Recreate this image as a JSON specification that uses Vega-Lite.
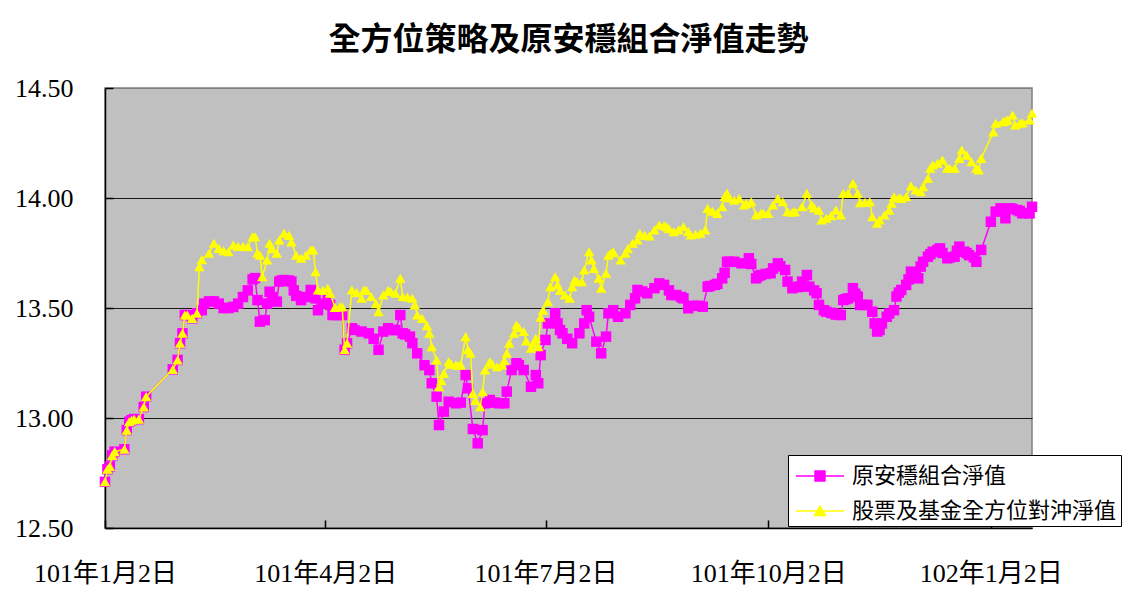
{
  "$schema": "https://vega.github.io/schema/vega-lite/v6.json",
  "autosize": {"type": "none"},
  "padding": {"left": 105, "top": 88, "right": 101, "bottom": 64},
  "width": 927,
  "height": 440,
  "background": "white",
  "title": {
    "text": "全方位策略及原安穩組合淨值走勢",
    "font": "Noto Sans CJK TC",
    "fontSize": 32,
    "fontWeight": "bold",
    "color": "black",
    "anchor": "middle",
    "offset": 18
  },
  "datasets": {
    "a": [
      {"date":"2012-01-02","nav":12.71},{"date":"2012-01-03","nav":12.767},{"date":"2012-01-04","nav":12.78},{"date":"2012-01-05","nav":12.83},{"date":"2012-01-06","nav":12.847},{"date":"2012-01-10","nav":12.858},{"date":"2012-01-11","nav":12.945},{"date":"2012-01-12","nav":12.983},{"date":"2012-01-13","nav":12.99},{"date":"2012-01-14","nav":12.995},{"date":"2012-01-16","nav":12.995},{"date":"2012-01-18","nav":13.05},{"date":"2012-01-19","nav":13.097},{"date":"2012-01-30","nav":13.221},{"date":"2012-02-01","nav":13.264},{"date":"2012-02-02","nav":13.34},{"date":"2012-02-03","nav":13.385},{"date":"2012-02-04","nav":13.468},{"date":"2012-02-05","nav":13.468},{"date":"2012-02-07","nav":13.453},{"date":"2012-02-09","nav":13.476},
      {"date":"2012-02-11","nav":13.49},{"date":"2012-02-12","nav":13.52},{"date":"2012-02-14","nav":13.53},{"date":"2012-02-16","nav":13.53},{"date":"2012-02-18","nav":13.52},{"date":"2012-02-20","nav":13.5},{"date":"2012-02-22","nav":13.5},{"date":"2012-02-24","nav":13.505},{"date":"2012-02-26","nav":13.52},{"date":"2012-02-28","nav":13.55},{"date":"2012-03-01","nav":13.58},{"date":"2012-03-03","nav":13.63},{"date":"2012-03-04","nav":13.636},{"date":"2012-03-05","nav":13.536},{"date":"2012-03-06","nav":13.438},{"date":"2012-03-08","nav":13.445},{"date":"2012-03-09","nav":13.52},{"date":"2012-03-10","nav":13.574},{"date":"2012-03-11","nav":13.55},{"date":"2012-03-13","nav":13.529},{"date":"2012-03-14","nav":13.62},{"date":"2012-03-15","nav":13.625},{"date":"2012-03-16","nav":13.627},{"date":"2012-03-18","nav":13.625},{"date":"2012-03-19","nav":13.62},{"date":"2012-03-20","nav":13.58},{"date":"2012-03-21","nav":13.555},{"date":"2012-03-23","nav":13.536},{"date":"2012-03-25","nav":13.55},{"date":"2012-03-27","nav":13.582},{"date":"2012-03-29","nav":13.544},{"date":"2012-03-30","nav":13.49},{"date":"2012-04-01","nav":13.52},{"date":"2012-04-03","nav":13.55},{"date":"2012-04-04","nav":13.514},{"date":"2012-04-05","nav":13.468},{"date":"2012-04-07","nav":13.468},{"date":"2012-04-09","nav":13.468},{"date":"2012-04-10","nav":13.31},{"date":"2012-04-11","nav":13.34},{"date":"2012-04-13","nav":13.408},{"date":"2012-04-14","nav":13.4},{"date":"2012-04-17","nav":13.393},{"date":"2012-04-20","nav":13.385},{"date":"2012-04-22","nav":13.36},{"date":"2012-04-24","nav":13.31},{"date":"2012-04-26","nav":13.393},{"date":"2012-04-28","nav":13.408},{"date":"2012-04-30","nav":13.4},{"date":"2012-05-01","nav":13.4},{"date":"2012-05-03","nav":13.468},{"date":"2012-05-04","nav":13.385},{"date":"2012-05-05","nav":13.38},{"date":"2012-05-07","nav":13.37},{"date":"2012-05-08","nav":13.34},{"date":"2012-05-10","nav":13.294},{"date":"2012-05-13","nav":13.24},{"date":"2012-05-15","nav":13.218},{"date":"2012-05-16","nav":13.158},{"date":"2012-05-18","nav":13.097},{"date":"2012-05-19","nav":12.968},{"date":"2012-05-21","nav":13.029},{"date":"2012-05-23","nav":13.074},{"date":"2012-05-26","nav":13.067},{"date":"2012-05-28","nav":13.07},{"date":"2012-05-30","nav":13.195},{"date":"2012-05-31","nav":13.135},{"date":"2012-06-02","nav":12.95},{"date":"2012-06-04","nav":12.885},{"date":"2012-06-06","nav":12.945},{"date":"2012-06-07","nav":13.067},{"date":"2012-06-09","nav":13.082},{"date":"2012-06-11","nav":13.07},{"date":"2012-06-13","nav":13.067},{"date":"2012-06-15","nav":13.067},{"date":"2012-06-16","nav":13.12},{"date":"2012-06-18","nav":13.218},{"date":"2012-06-20","nav":13.249},{"date":"2012-06-21","nav":13.24},{"date":"2012-06-23","nav":13.218},{"date":"2012-06-26","nav":13.142},{"date":"2012-06-28","nav":13.195},{"date":"2012-06-29","nav":13.158},{"date":"2012-06-30","nav":13.286},{"date":"2012-07-02","nav":13.355},{"date":"2012-07-03","nav":13.43},{"date":"2012-07-06","nav":13.476},{"date":"2012-07-07","nav":13.43},{"date":"2012-07-08","nav":13.4},{"date":"2012-07-09","nav":13.385},{"date":"2012-07-11","nav":13.36},{"date":"2012-07-13","nav":13.34},{"date":"2012-07-16","nav":13.385},{"date":"2012-07-18","nav":13.43},{"date":"2012-07-19","nav":13.49},{"date":"2012-07-20","nav":13.46},{"date":"2012-07-23","nav":13.347},{"date":"2012-07-25","nav":13.294},{"date":"2012-07-27","nav":13.37},{"date":"2012-07-28","nav":13.476},{"date":"2012-07-30","nav":13.49},{"date":"2012-08-01","nav":13.46},{"date":"2012-08-04","nav":13.476},{"date":"2012-08-06","nav":13.514},{"date":"2012-08-08","nav":13.544},{"date":"2012-08-09","nav":13.582},{"date":"2012-08-11","nav":13.575},{"date":"2012-08-13","nav":13.567},{"date":"2012-08-16","nav":13.59},{"date":"2012-08-18","nav":13.612},{"date":"2012-08-20","nav":13.605},{"date":"2012-08-22","nav":13.58},{"date":"2012-08-23","nav":13.559},{"date":"2012-08-25","nav":13.559},{"date":"2012-08-27","nav":13.55},{"date":"2012-08-28","nav":13.544},{"date":"2012-08-30","nav":13.499},{"date":"2012-09-01","nav":13.51},{"date":"2012-09-03","nav":13.51},{"date":"2012-09-05","nav":13.506},{"date":"2012-09-07","nav":13.597},{"date":"2012-09-08","nav":13.6},{"date":"2012-09-10","nav":13.605},{"date":"2012-09-11","nav":13.61},{"date":"2012-09-13","nav":13.635},{"date":"2012-09-14","nav":13.66},{"date":"2012-09-15","nav":13.71},{"date":"2012-09-16","nav":13.71},{"date":"2012-09-18","nav":13.71},{"date":"2012-09-21","nav":13.703},{"date":"2012-09-24","nav":13.726},{"date":"2012-09-25","nav":13.7},{"date":"2012-09-27","nav":13.635},{"date":"2012-09-28","nav":13.645},{"date":"2012-09-29","nav":13.65},{"date":"2012-10-01","nav":13.655},{"date":"2012-10-03","nav":13.658},{"date":"2012-10-04","nav":13.68},{"date":"2012-10-06","nav":13.703},{"date":"2012-10-07","nav":13.69},{"date":"2012-10-09","nav":13.673},{"date":"2012-10-10","nav":13.62},{"date":"2012-10-12","nav":13.59},{"date":"2012-10-14","nav":13.595},{"date":"2012-10-15","nav":13.597},{"date":"2012-10-16","nav":13.62},{"date":"2012-10-18","nav":13.65},{"date":"2012-10-19","nav":13.597},{"date":"2012-10-21","nav":13.58},{"date":"2012-10-22","nav":13.567},{"date":"2012-10-23","nav":13.514},{"date":"2012-10-25","nav":13.49},{"date":"2012-10-26","nav":13.483},{"date":"2012-10-28","nav":13.478},{"date":"2012-10-29","nav":13.476},{"date":"2012-10-30","nav":13.47},{"date":"2012-11-01","nav":13.468},{"date":"2012-11-02","nav":13.536},{"date":"2012-11-03","nav":13.54},{"date":"2012-11-04","nav":13.544},{"date":"2012-11-06","nav":13.59},{"date":"2012-11-07","nav":13.565},{"date":"2012-11-08","nav":13.552},{"date":"2012-11-09","nav":13.514},{"date":"2012-11-11","nav":13.514},{"date":"2012-11-12","nav":13.514},{"date":"2012-11-14","nav":13.483},{"date":"2012-11-15","nav":13.43},{"date":"2012-11-16","nav":13.393},{"date":"2012-11-17","nav":13.4},{"date":"2012-11-18","nav":13.43},{"date":"2012-11-20","nav":13.46},{"date":"2012-11-21","nav":13.475},{"date":"2012-11-23","nav":13.49},{"date":"2012-11-24","nav":13.552},{"date":"2012-11-25","nav":13.57},{"date":"2012-11-26","nav":13.582},{"date":"2012-11-28","nav":13.605},{"date":"2012-11-29","nav":13.63},{"date":"2012-11-30","nav":13.665},{"date":"2012-12-02","nav":13.66},{"date":"2012-12-03","nav":13.635},{"date":"2012-12-04","nav":13.688},{"date":"2012-12-05","nav":13.71},{"date":"2012-12-07","nav":13.733},{"date":"2012-12-08","nav":13.745},{"date":"2012-12-09","nav":13.756},{"date":"2012-12-11","nav":13.765},{"date":"2012-12-12","nav":13.771},{"date":"2012-12-13","nav":13.75},{"date":"2012-12-15","nav":13.726},{"date":"2012-12-16","nav":13.73},{"date":"2012-12-18","nav":13.733},{"date":"2012-12-19","nav":13.76},{"date":"2012-12-20","nav":13.779},{"date":"2012-12-22","nav":13.756},{"date":"2012-12-23","nav":13.75},{"date":"2012-12-24","nav":13.74},{"date":"2012-12-26","nav":13.73},{"date":"2012-12-27","nav":13.71},{"date":"2012-12-29","nav":13.764},{"date":"2013-01-02","nav":13.892},{"date":"2013-01-04","nav":13.938},{"date":"2013-01-06","nav":13.953},{"date":"2013-01-08","nav":13.908},{"date":"2013-01-10","nav":13.953},{"date":"2013-01-11","nav":13.95},{"date":"2013-01-13","nav":13.945},{"date":"2013-01-14","nav":13.94},{"date":"2013-01-15","nav":13.93},{"date":"2013-01-18","nav":13.93},{"date":"2013-01-19","nav":13.96}
    ],
    "b": [
      {"date":"2012-01-02","nav":12.71},{"date":"2012-01-03","nav":12.767},{"date":"2012-01-04","nav":12.78},{"date":"2012-01-05","nav":12.83},{"date":"2012-01-06","nav":12.847},{"date":"2012-01-10","nav":12.858},{"date":"2012-01-11","nav":12.945},{"date":"2012-01-12","nav":12.983},{"date":"2012-01-13","nav":12.99},{"date":"2012-01-14","nav":12.995},{"date":"2012-01-16","nav":12.995},{"date":"2012-01-18","nav":13.05},{"date":"2012-01-19","nav":13.097},{"date":"2012-01-30","nav":13.221},{"date":"2012-02-01","nav":13.264},{"date":"2012-02-02","nav":13.34},{"date":"2012-02-03","nav":13.385},{"date":"2012-02-04","nav":13.468},{"date":"2012-02-05","nav":13.468},{"date":"2012-02-07","nav":13.453},{"date":"2012-02-09","nav":13.476},
      {"date":"2012-02-10","nav":13.688},{"date":"2012-02-11","nav":13.72},{"date":"2012-02-14","nav":13.749},{"date":"2012-02-16","nav":13.794},{"date":"2012-02-18","nav":13.771},{"date":"2012-02-20","nav":13.76},{"date":"2012-02-22","nav":13.756},{"date":"2012-02-24","nav":13.786},{"date":"2012-02-26","nav":13.78},{"date":"2012-02-28","nav":13.78},{"date":"2012-03-01","nav":13.779},{"date":"2012-03-03","nav":13.824},{"date":"2012-03-04","nav":13.824},{"date":"2012-03-05","nav":13.75},{"date":"2012-03-06","nav":13.74},{"date":"2012-03-07","nav":13.642},{"date":"2012-03-09","nav":13.718},{"date":"2012-03-10","nav":13.794},{"date":"2012-03-11","nav":13.77},{"date":"2012-03-13","nav":13.749},{"date":"2012-03-14","nav":13.809},{"date":"2012-03-16","nav":13.84},{"date":"2012-03-18","nav":13.83},{"date":"2012-03-19","nav":13.8},{"date":"2012-03-21","nav":13.74},{"date":"2012-03-23","nav":13.726},{"date":"2012-03-25","nav":13.74},{"date":"2012-03-27","nav":13.764},{"date":"2012-03-28","nav":13.764},{"date":"2012-03-29","nav":13.665},{"date":"2012-03-30","nav":13.582},{"date":"2012-04-01","nav":13.58},{"date":"2012-04-03","nav":13.59},{"date":"2012-04-04","nav":13.567},{"date":"2012-04-06","nav":13.503},{"date":"2012-04-08","nav":13.505},{"date":"2012-04-09","nav":13.506},{"date":"2012-04-10","nav":13.31},{"date":"2012-04-11","nav":13.34},{"date":"2012-04-13","nav":13.582},{"date":"2012-04-15","nav":13.57},{"date":"2012-04-17","nav":13.544},{"date":"2012-04-18","nav":13.582},{"date":"2012-04-19","nav":13.58},{"date":"2012-04-21","nav":13.552},{"date":"2012-04-23","nav":13.52},{"date":"2012-04-24","nav":13.483},{"date":"2012-04-26","nav":13.559},{"date":"2012-04-28","nav":13.58},{"date":"2012-04-29","nav":13.575},{"date":"2012-05-01","nav":13.567},{"date":"2012-05-03","nav":13.635},{"date":"2012-05-04","nav":13.552},{"date":"2012-05-06","nav":13.55},{"date":"2012-05-08","nav":13.544},{"date":"2012-05-09","nav":13.514},{"date":"2012-05-10","nav":13.468},{"date":"2012-05-12","nav":13.453},{"date":"2012-05-14","nav":13.42},{"date":"2012-05-15","nav":13.385},{"date":"2012-05-16","nav":13.324},{"date":"2012-05-18","nav":13.264},{"date":"2012-05-19","nav":13.142},{"date":"2012-05-20","nav":13.17},{"date":"2012-05-21","nav":13.203},{"date":"2012-05-23","nav":13.256},{"date":"2012-05-24","nav":13.245},{"date":"2012-05-26","nav":13.241},{"date":"2012-05-27","nav":13.24},{"date":"2012-05-28","nav":13.241},{"date":"2012-05-30","nav":13.37},{"date":"2012-05-31","nav":13.31},{"date":"2012-06-01","nav":13.294},{"date":"2012-06-02","nav":13.112},{"date":"2012-06-03","nav":13.08},{"date":"2012-06-05","nav":13.051},{"date":"2012-06-06","nav":13.12},{"date":"2012-06-07","nav":13.218},{"date":"2012-06-09","nav":13.256},{"date":"2012-06-10","nav":13.245},{"date":"2012-06-12","nav":13.233},{"date":"2012-06-14","nav":13.241},{"date":"2012-06-15","nav":13.26},{"date":"2012-06-16","nav":13.294},{"date":"2012-06-17","nav":13.34},{"date":"2012-06-19","nav":13.385},{"date":"2012-06-20","nav":13.423},{"date":"2012-06-21","nav":13.41},{"date":"2012-06-23","nav":13.393},{"date":"2012-06-24","nav":13.35},{"date":"2012-06-26","nav":13.317},{"date":"2012-06-27","nav":13.34},{"date":"2012-06-28","nav":13.362},{"date":"2012-06-29","nav":13.324},{"date":"2012-06-30","nav":13.458},{"date":"2012-07-01","nav":13.49},{"date":"2012-07-03","nav":13.529},{"date":"2012-07-04","nav":13.597},{"date":"2012-07-06","nav":13.642},{"date":"2012-07-07","nav":13.605},{"date":"2012-07-08","nav":13.58},{"date":"2012-07-10","nav":13.559},{"date":"2012-07-12","nav":13.544},{"date":"2012-07-13","nav":13.597},{"date":"2012-07-14","nav":13.627},{"date":"2012-07-15","nav":13.62},{"date":"2012-07-17","nav":13.62},{"date":"2012-07-18","nav":13.673},{"date":"2012-07-20","nav":13.756},{"date":"2012-07-21","nav":13.718},{"date":"2012-07-22","nav":13.68},{"date":"2012-07-24","nav":13.635},{"date":"2012-07-25","nav":13.59},{"date":"2012-07-27","nav":13.658},{"date":"2012-07-28","nav":13.74},{"date":"2012-07-29","nav":13.75},{"date":"2012-07-30","nav":13.756},{"date":"2012-08-02","nav":13.718},{"date":"2012-08-04","nav":13.749},{"date":"2012-08-05","nav":13.77},{"date":"2012-08-07","nav":13.794},{"date":"2012-08-09","nav":13.809},{"date":"2012-08-10","nav":13.84},{"date":"2012-08-12","nav":13.83},{"date":"2012-08-14","nav":13.827},{"date":"2012-08-16","nav":13.855},{"date":"2012-08-18","nav":13.877},{"date":"2012-08-20","nav":13.875},{"date":"2012-08-21","nav":13.87},{"date":"2012-08-22","nav":13.86},{"date":"2012-08-24","nav":13.847},{"date":"2012-08-26","nav":13.855},{"date":"2012-08-28","nav":13.87},{"date":"2012-08-30","nav":13.847},{"date":"2012-08-31","nav":13.832},{"date":"2012-09-02","nav":13.835},{"date":"2012-09-04","nav":13.84},{"date":"2012-09-06","nav":13.855},{"date":"2012-09-07","nav":13.953},{"date":"2012-09-09","nav":13.94},{"date":"2012-09-11","nav":13.93},{"date":"2012-09-13","nav":13.96},{"date":"2012-09-14","nav":14.006},{"date":"2012-09-15","nav":14.021},{"date":"2012-09-16","nav":14.0},{"date":"2012-09-18","nav":13.99},{"date":"2012-09-20","nav":13.998},{"date":"2012-09-22","nav":13.968},{"date":"2012-09-23","nav":13.975},{"date":"2012-09-25","nav":13.983},{"date":"2012-09-27","nav":13.923},{"date":"2012-09-29","nav":13.93},{"date":"2012-09-30","nav":13.93},{"date":"2012-10-02","nav":13.93},{"date":"2012-10-04","nav":13.968},{"date":"2012-10-06","nav":13.998},{"date":"2012-10-08","nav":13.983},{"date":"2012-10-10","nav":13.938},{"date":"2012-10-12","nav":13.935},{"date":"2012-10-13","nav":13.938},{"date":"2012-10-16","nav":13.96},{"date":"2012-10-18","nav":14.021},{"date":"2012-10-20","nav":13.968},{"date":"2012-10-21","nav":13.955},{"date":"2012-10-23","nav":13.945},{"date":"2012-10-24","nav":13.9},{"date":"2012-10-26","nav":13.908},{"date":"2012-10-28","nav":13.92},{"date":"2012-10-30","nav":13.945},{"date":"2012-11-01","nav":13.923},{"date":"2012-11-02","nav":14.021},{"date":"2012-11-04","nav":14.021},{"date":"2012-11-06","nav":14.067},{"date":"2012-11-08","nav":14.021},{"date":"2012-11-09","nav":13.979},{"date":"2012-11-11","nav":13.98},{"date":"2012-11-13","nav":13.983},{"date":"2012-11-14","nav":13.915},{"date":"2012-11-16","nav":13.885},{"date":"2012-11-17","nav":13.9},{"date":"2012-11-19","nav":13.923},{"date":"2012-11-21","nav":13.945},{"date":"2012-11-22","nav":13.976},{"date":"2012-11-23","nav":14.006},{"date":"2012-11-25","nav":14.0},{"date":"2012-11-26","nav":13.998},{"date":"2012-11-28","nav":14.006},{"date":"2012-11-30","nav":14.055},{"date":"2012-12-02","nav":14.036},{"date":"2012-12-04","nav":14.029},{"date":"2012-12-05","nav":14.051},{"date":"2012-12-07","nav":14.089},{"date":"2012-12-08","nav":14.135},{"date":"2012-12-09","nav":14.15},{"date":"2012-12-11","nav":14.158},{"date":"2012-12-13","nav":14.173},{"date":"2012-12-15","nav":14.135},{"date":"2012-12-16","nav":14.135},{"date":"2012-12-18","nav":14.135},{"date":"2012-12-20","nav":14.18},{"date":"2012-12-21","nav":14.218},{"date":"2012-12-23","nav":14.195},{"date":"2012-12-25","nav":14.165},{"date":"2012-12-27","nav":14.135},{"date":"2012-12-28","nav":14.127},{"date":"2012-12-29","nav":14.18},{"date":"2013-01-03","nav":14.3},{"date":"2013-01-04","nav":14.34},{"date":"2013-01-07","nav":14.347},{"date":"2013-01-08","nav":14.35},{"date":"2013-01-09","nav":14.355},{"date":"2013-01-11","nav":14.377},{"date":"2013-01-12","nav":14.332},{"date":"2013-01-14","nav":14.34},{"date":"2013-01-15","nav":14.342},{"date":"2013-01-18","nav":14.355},{"date":"2013-01-19","nav":14.385}
    ]
  },
  "encoding": {
    "x": {
      "field": "date",
      "type": "temporal",
      "scale": {
        "type": "utc",
        "domain": [
          {"year": 2012, "month": 1, "date": 2, "utc": true},
          {"year": 2013, "month": 1, "date": 19, "utc": true}
        ]
      },
      "axis": {
        "title": null,
        "grid": false,
        "values": [
          {"year": 2012, "month": 1, "date": 2, "utc": true},
          {"year": 2012, "month": 4, "date": 2, "utc": true},
          {"year": 2012, "month": 7, "date": 2, "utc": true},
          {"year": 2012, "month": 10, "date": 2, "utc": true},
          {"year": 2013, "month": 1, "date": 2, "utc": true}
        ],
        "labelExpr": "(utcyear(datum.value) - 1911) + '年' + (utcmonth(datum.value) + 1) + '月' + utcdate(datum.value) + '日'",
        "labelFont": "'Liberation Serif', 'Noto Sans CJK TC'",
        "labelFontSize": 26,
        "labelColor": "black",
        "labelPadding": 40,
        "labelFlush": false,
        "labelOverlap": false,
        "tickSize": -8,
        "tickColor": "black",
        "tickWidth": 1.5,
        "domainColor": "black",
        "domainWidth": 1.5
      }
    },
    "y": {
      "field": "nav",
      "type": "quantitative",
      "scale": {"domain": [12.5, 14.5], "nice": false, "zero": false},
      "axis": {
        "title": null,
        "values": [12.5, 13, 13.5, 14, 14.5],
        "format": ".2f",
        "labelFont": "Liberation Serif",
        "labelFontSize": 26,
        "labelColor": "black",
        "labelPadding": 40,
        "tickSize": -8,
        "tickColor": "black",
        "tickWidth": 1.5,
        "domainColor": "black",
        "domainWidth": 1.5,
        "grid": true,
        "gridColor": {"condition": {"test": "datum.value == 14.5", "value": "#808080"}, "value": "#1a1a1a"},
        "gridWidth": 1.2
      }
    }
  },
  "layer": [
    {
      "data": {"name": "a"},
      "mark": {
        "type": "line",
        "strokeWidth": 1.5,
        "point": {"shape": "square", "size": 110, "filled": true, "opacity": 1}
      },
      "encoding": {
        "color": {
          "datum": "原安穩組合淨值",
          "scale": {
            "domain": ["原安穩組合淨值", "股票及基金全方位對沖淨值"],
            "range": ["#FF00FF", "#FFFF00"]
          },
          "legend": {
            "orient": "none",
            "legendX": 683,
            "legendY": 367,
            "title": null,
            "fillColor": "white",
            "strokeColor": "black",
            "padding": 4,
            "rowPadding": 7,
            "symbolOffset": 11,
            "labelFont": "'Liberation Serif', 'Noto Sans CJK TC'",
            "labelFontSize": 22,
            "labelColor": "black",
            "labelOffset": 15,
            "labelLimit": 400,
            "symbolSize": 1024,
            "symbolStrokeWidth": 1.5,
            "encode": {
              "symbols": {
                "update": {
                  "shape": [
                    {"test": "datum.value === '原安穩組合淨值'", "value": "M-1.5,0H1.5M-0.31,-0.31H0.31V0.31H-0.31Z"},
                    {"value": "M-1.5,0H1.5M0,-0.3L0.34,0.28H-0.34Z"}
                  ],
                  "fill": {"scale": "color", "field": "value"},
                  "stroke": {"scale": "color", "field": "value"},
                  "opacity": {"value": 1}
                }
              }
            }
          }
        }
      }
    },
    {
      "data": {"name": "b"},
      "mark": {
        "type": "line",
        "strokeWidth": 1.5,
        "point": {"shape": "triangle-up", "size": 110, "filled": true, "opacity": 1}
      },
      "encoding": {
        "color": {"datum": "股票及基金全方位對沖淨值"}
      }
    }
  ],
  "config": {
    "view": {"fill": "#C0C0C0", "stroke": "#808080", "strokeWidth": 1.5}
  }
}
